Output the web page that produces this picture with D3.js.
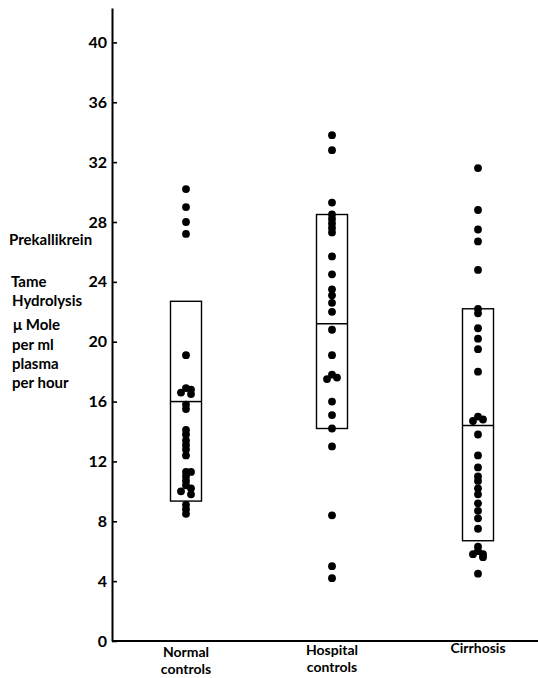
<!DOCTYPE html>
<html>
<head>
<meta charset="utf-8">
<script src="https://cdn.jsdelivr.net/npm/d3@7"></script>
<style>
  body { margin: 0; background: #fff; }
  text { font-family: Lato, "Open Sans", sans-serif; fill: #000; }
</style>
</head>
<body>
<svg id="chart"></svg>
<script>
const groups = ["Normal controls", "Hospital controls", "Cirrhosis"];
const normalValues = [30.2, 29.0, 28.0, 27.2, 19.1, 16.9, 16.8, 16.6, 16.5, 15.8, 15.5,
  14.1, 13.8, 13.4, 13.1, 12.8, 12.4, 11.3, 11.3, 11.0, 10.7, 10.4, 10.2, 10.0, 9.8, 9.1, 8.8, 8.5];
const hospitalValues = [33.8, 32.8, 29.3, 28.5, 28.2, 27.9, 27.6, 27.3, 25.7, 24.5, 23.5, 23.1,
  22.6, 22.0, 20.8, 19.1, 17.8, 17.6, 17.5, 16.0, 15.1, 14.2, 13.0, 8.4, 5.0, 4.2];
const cirrhosisValues = [31.6, 28.8, 27.5, 26.7, 24.8, 22.2, 21.9, 20.9, 20.2, 19.5, 18.0,
  15.0, 14.8, 14.7, 13.8, 12.4, 11.6, 11.0, 10.7, 10.2, 9.8, 9.2, 8.7, 8.2, 7.5,
  6.3, 6.0, 5.8, 5.8, 5.6, 4.5];
const boxTops = [22.7, 28.5, 22.2];
const boxBottoms = [9.35, 14.2, 6.7];
const medians = [16.0, 21.2, 14.4];
const yTicks = [0, 4, 8, 12, 16, 20, 24, 28, 32, 36, 40];
const groupLabels = [["Normal", "controls"], ["Hospital", "controls"], ["Cirrhosis"]];
const yLabelLines = ["Prekallikrein", "Tame", "Hydrolysis", "\u03bc Mole", "per ml", "plasma", "per hour"];

const svg = d3.select("#chart")
  .attr("width", 538)
  .attr("height", 678);

const axisX = 112;
const y = d3.scaleLinear().domain([0, 42.3]).range([641, 8]);
const x = d3.scalePoint().domain(groups).range([186, 478]);

// y axis, ticks point inward
const yAxis = svg.append("g")
  .attr("transform", `translate(${axisX},0)`)
  .call(d3.axisLeft(y).tickValues(yTicks).tickSizeInner(-5).tickSizeOuter(0).tickPadding(5));
yAxis.select(".domain").attr("stroke", "#000").attr("stroke-width", 2);
yAxis.selectAll(".tick line").attr("stroke", "#000").attr("stroke-width", 1.6);
yAxis.selectAll(".tick text")
  .attr("font-size", 16)
  .attr("font-weight", 700)
  .style("font-family", "Lato, sans-serif");

// x axis baseline
svg.append("line")
  .attr("x1", axisX).attr("x2", 538)
  .attr("y1", y(0)).attr("y2", y(0))
  .attr("stroke", "#000").attr("stroke-width", 2);

// category labels, one text per line
const labelBase = [657, 655, 653];
groups.forEach((gname, i) => {
  svg.append("g").selectAll("text")
    .data(groupLabels[i])
    .enter().append("text")
    .attr("x", x(gname))
    .attr("y", (d, j) => labelBase[i] + j * 17)
    .attr("text-anchor", "middle")
    .attr("font-size", 14)
    .attr("font-weight", 700)
    .text(d => d);
});

// y axis label block
const labelY = [245, 287, 306, 330, 350, 369, 388];
const labelX = [9, 11, 12, 13, 12, 12, 12];
svg.append("g").selectAll("text")
  .data(yLabelLines)
  .enter().append("text")
  .attr("x", (d, i) => labelX[i])
  .attr("y", (d, i) => labelY[i])
  .attr("font-size", 15)
  .attr("font-weight", 700)
  .text(d => d);

// boxes
const boxW = 31;
groups.forEach((gname, i) => {
  const cx = x(gname);
  svg.append("rect")
    .attr("x", cx - boxW / 2)
    .attr("y", y(boxTops[i]))
    .attr("width", boxW)
    .attr("height", y(boxBottoms[i]) - y(boxTops[i]))
    .attr("fill", "none")
    .attr("stroke", "#000")
    .attr("stroke-width", 1.4);
  svg.append("line")
    .attr("x1", cx - boxW / 2).attr("x2", cx + boxW / 2)
    .attr("y1", y(medians[i])).attr("y2", y(medians[i]))
    .attr("stroke", "#000")
    .attr("stroke-width", 1.5);
});

// dots: nudge near-identical values sideways
const allValues = [normalValues, hospitalValues, cirrhosisValues];
allValues.forEach((vals, i) => {
  const cx = x(groups[i]);
  const sorted = vals.slice().sort((a, b) => b - a);
  let prev = null, side = 1;
  const pts = sorted.map(v => {
    let dx = 0;
    if (prev !== null && prev - v < 0.25) { dx = 5 * side; side = -side; }
    else { side = 1; }
    prev = v;
    return { v, dx };
  });
  svg.append("g").selectAll("circle")
    .data(pts)
    .enter().append("circle")
    .attr("cx", d => cx + d.dx)
    .attr("cy", d => y(d.v))
    .attr("r", 3.9)
    .attr("fill", "#000");
});
</script>
</body>
</html>
